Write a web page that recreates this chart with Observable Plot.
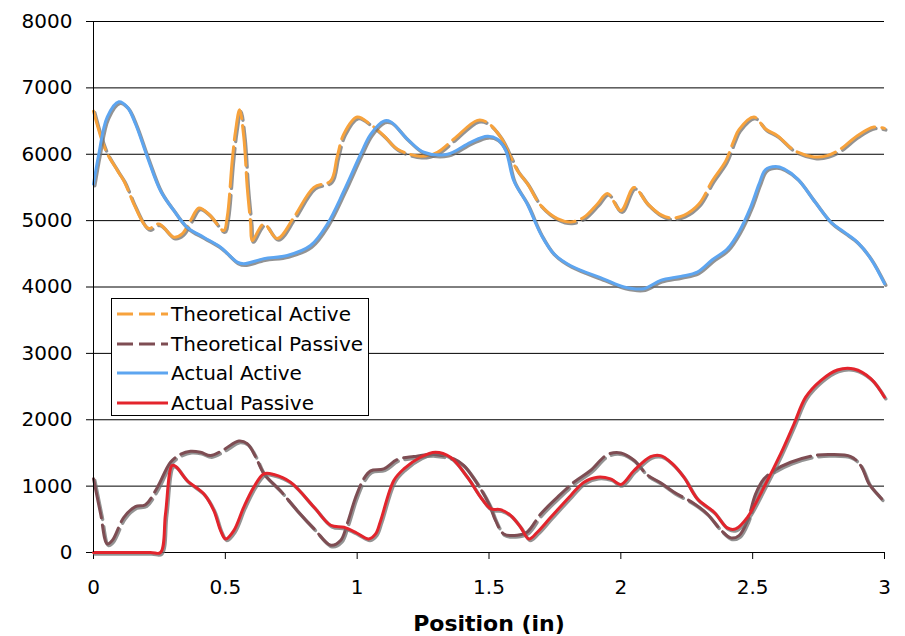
<!DOCTYPE html>
<html>
<head>
<meta charset="utf-8">
<script src="https://cdn.jsdelivr.net/npm/d3@7"></script>
<script src="https://cdn.jsdelivr.net/npm/@observablehq/plot@0.6"></script>
<style>
  html, body { margin: 0; padding: 0; background: #fff; }
  #wrap { position: relative; width: 905px; height: 636px; font-family: "DejaVu Sans", Verdana, sans-serif; }
  #legend { position: absolute; left: 111px; top: 298px; width: 258px; height: 118px; border: 1px solid #000; background: #fff; box-sizing: border-box; }
  .row { position: absolute; left: 0; height: 24px; line-height: 24px; font-size: 20px; color: #000; white-space: nowrap; }
  .row svg { position: absolute; left: 4px; top: 0; }
  .row span { position: absolute; left: 59px; top: 0; }
</style>
</head>
<body>
<div id="wrap"></div>
<script>
// ---- Data ----
const seriesNames = ["Theoretical Active", "Theoretical Passive", "Actual Active", "Actual Passive"];
const seriesColors = ["#F7A23C", "#7E4D53", "#5DA5F0", "#E3242C"];

const taX = [0, 0.046, 0.09, 0.115, 0.134, 0.153, 0.191, 0.21, 0.248, 0.305, 0.336, 0.368, 0.4, 0.437, 0.494, 0.507, 0.526, 0.539, 0.554, 0.57, 0.583, 0.596, 0.602, 0.646, 0.697, 0.76, 0.836, 0.9, 0.924, 0.95, 1.0, 1.05, 1.101, 1.152, 1.24, 1.304, 1.367, 1.456, 1.493, 1.544, 1.582, 1.607, 1.645, 1.696, 1.759, 1.81, 1.86, 1.911, 1.949, 2.0, 2.05, 2.1, 2.151, 2.189, 2.239, 2.296, 2.347, 2.398, 2.429, 2.448, 2.505, 2.549, 2.594, 2.657, 2.733, 2.783, 2.834, 2.897, 2.96, 3.0];
const taY = [6650, 6060, 5760, 5600, 5430, 5250, 4950, 4880, 4950, 4750, 4800, 5000, 5190, 5100, 4850, 5050, 5900, 6360, 6670, 6260, 5500, 4950, 4700, 4950, 4730, 5050, 5500, 5600, 5960, 6310, 6560, 6450, 6280, 6080, 5970, 6030, 6230, 6510, 6480, 6260, 5960, 5760, 5560, 5230, 5030, 4980, 5050, 5250, 5410, 5150, 5500, 5260, 5090, 5040, 5080, 5250, 5600, 5900, 6210, 6370, 6560, 6380, 6280, 6060, 5960, 5980, 6080, 6280, 6410, 6390];

const tpX = [0, 0.027, 0.052, 0.071, 0.115, 0.159, 0.197, 0.242, 0.292, 0.33, 0.368, 0.406, 0.444, 0.494, 0.551, 0.583, 0.615, 0.646, 0.709, 0.773, 0.836, 0.9, 0.937, 0.962, 0.994, 1.025, 1.051, 1.101, 1.152, 1.215, 1.291, 1.367, 1.405, 1.456, 1.5, 1.525, 1.556, 1.607, 1.645, 1.696, 1.759, 1.822, 1.885, 1.949, 2.0, 2.05, 2.1, 2.151, 2.201, 2.277, 2.328, 2.379, 2.417, 2.448, 2.48, 2.511, 2.543, 2.581, 2.644, 2.733, 2.796, 2.872, 2.91, 2.941, 2.973, 3.0];
const tpY = [1110, 580, 130, 180, 530, 690, 720, 980, 1360, 1480, 1525, 1510, 1460, 1550, 1680, 1640, 1440, 1190, 930, 630, 360, 110, 180, 430, 830, 1110, 1230, 1260, 1400, 1445, 1475, 1410, 1310, 1035, 730, 480, 280, 260, 310, 580, 830, 1060, 1235, 1475, 1500, 1390, 1170, 1050, 910, 740, 580, 340, 220, 255, 480, 880, 1110, 1235, 1360, 1460, 1476, 1446, 1310, 1035, 880, 760];

const aaX = [0, 0.02, 0.052, 0.096, 0.128, 0.159, 0.204, 0.254, 0.305, 0.355, 0.418, 0.482, 0.545, 0.57, 0.646, 0.735, 0.823, 0.887, 0.95, 1.013, 1.051, 1.101, 1.127, 1.19, 1.253, 1.342, 1.43, 1.493, 1.531, 1.563, 1.594, 1.645, 1.696, 1.746, 1.81, 1.936, 2.012, 2.088, 2.151, 2.227, 2.29, 2.347, 2.404, 2.448, 2.492, 2.524, 2.549, 2.587, 2.619, 2.67, 2.733, 2.796, 2.846, 2.897, 2.948, 3.0];
const aaY = [5550, 6000, 6560, 6790, 6710, 6460, 5960, 5450, 5150, 4900, 4750, 4600, 4375, 4350, 4425, 4475, 4625, 4950, 5450, 6000, 6300, 6500, 6490, 6230, 6030, 6000, 6180, 6270, 6230, 6060, 5600, 5250, 4800, 4500, 4320, 4120, 4000, 3975, 4100, 4160, 4225, 4410, 4575, 4830, 5200, 5550, 5770, 5815, 5780, 5630, 5300, 4980, 4830, 4675, 4425, 4050];

const apX = [0, 0.216, 0.254, 0.273, 0.298, 0.311, 0.355, 0.418, 0.456, 0.482, 0.501, 0.532, 0.57, 0.608, 0.646, 0.684, 0.747, 0.836, 0.9, 0.95, 1.0, 1.044, 1.07, 1.089, 1.139, 1.177, 1.24, 1.297, 1.354, 1.418, 1.468, 1.506, 1.544, 1.582, 1.62, 1.651, 1.683, 1.734, 1.81, 1.86, 1.911, 1.961, 2.0, 2.05, 2.113, 2.151, 2.189, 2.239, 2.29, 2.353, 2.404, 2.435, 2.48, 2.543, 2.606, 2.657, 2.701, 2.758, 2.821, 2.884, 2.948, 3.0];
const apY = [0, 0, 0, 580, 1310, 1300, 1085, 885, 635, 330, 205, 330, 685, 985, 1185, 1175, 1060, 685, 410, 380, 290, 205, 280, 480, 1085, 1260, 1435, 1510, 1435, 1135, 835, 660, 645, 560, 380, 205, 305, 530, 860, 1060, 1135, 1110, 1025, 1235, 1445, 1460, 1360, 1135, 810, 610, 370, 355, 530, 985, 1485, 1940, 2340, 2590, 2750, 2765, 2620, 2340];

const xTicks = [0, 0.5, 1, 1.5, 2, 2.5, 3];
const yTicks = [0, 1000, 2000, 3000, 4000, 5000, 6000, 7000, 8000];
const xLabel = "Position (in)";

// ---- Build ----
const toRows = (xs, ys) => xs.map((x, i) => ({x, y: ys[i]}));
const series = [
  {data: toRows(taX, taY), dash: "40,7"},
  {data: toRows(tpX, tpY), dash: "40,7"},
  {data: toRows(aaX, aaY), dash: null},
  {data: toRows(apX, apY), dash: null}
];

const lineMarks = [];
series.forEach((s, i) => {
  lineMarks.push(Plot.line(s.data, {x: "x", y: "y", curve: "catmull-rom", stroke: "#6f6f6f", strokeOpacity: 0.75, strokeWidth: 3.4, dx: 1.3, dy: 1.6, strokeDasharray: s.dash || undefined}));
  lineMarks.push(Plot.line(s.data, {x: "x", y: "y", curve: "catmull-rom", stroke: seriesColors[i], strokeWidth: 3, strokeDasharray: s.dash || undefined}));
});

const chart = Plot.plot({
  width: 905,
  height: 636,
  marginLeft: 93,
  marginRight: 21,
  marginTop: 21,
  marginBottom: 84,
  style: {fontFamily: "DejaVu Sans, Verdana, sans-serif", fontSize: "20px", color: "#000", background: "#fff"},
  x: {domain: [0, 3]},
  y: {domain: [0, 8000]},
  marks: [
    Plot.gridY(yTicks, {stroke: "#000", strokeOpacity: 1, strokeWidth: 1}),
    Plot.axisY(yTicks, {tickSize: 7, tickPadding: 14, label: null, tickFormat: d => String(d), stroke: "#000", fontSize: 20}),
    Plot.axisX(xTicks, {tickSize: 7, tickPadding: 20, label: null, tickFormat: d => String(d), stroke: "#000", fontSize: 20}),
    Plot.ruleY([0], {stroke: "#000"}),
    ...lineMarks,
    Plot.ruleX([0], {stroke: "#000"}),
    Plot.text([xLabel], {frameAnchor: "bottom", dy: 71, text: d => d, fontWeight: "bold", fontSize: 22, fill: "#000", lineAnchor: "middle"})
  ]
});

const wrap = document.getElementById("wrap");
wrap.appendChild(chart);

// ---- Legend ----
const legend = document.createElement("div");
legend.id = "legend";
const rowTops = [3, 33, 62, 92];
seriesNames.forEach((name, i) => {
  const row = document.createElement("div");
  row.className = "row";
  row.style.top = rowTops[i] + "px";
  const dash = i < 2 ? ' stroke-dasharray="16,6"' : '';
  row.innerHTML = `<svg width="52" height="24"><line x1="1" y1="12" x2="52" y2="12" stroke="${seriesColors[i]}" stroke-width="3"${dash}/></svg><span>${name}</span>`;
  legend.appendChild(row);
});
wrap.appendChild(legend);
</script>
</body>
</html>
